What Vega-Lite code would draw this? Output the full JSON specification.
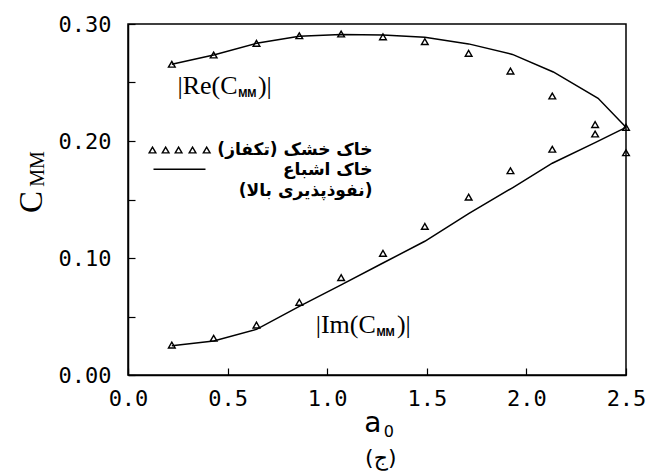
{
  "$schema": "https://vega.github.io/schema/vega-lite/v6.json",
  "width": 498,
  "height": 351,
  "autosize": {"type": "none"},
  "padding": {"left": 128, "top": 24, "right": 22, "bottom": 100},
  "background": "white",
  "config": {
    "view": {"stroke": "black", "strokeWidth": 1.5},
    "axis": {"grid": false, "domainColor": "black", "domainWidth": 1.5, "tickColor": "black", "tickWidth": 1.2, "labelColor": "black", "labelFont": "DejaVu Sans Mono", "labelFontSize": 22, "labelFontWeight": "normal"}
  },
  "datasets": {
    "lines": [
      {"a0": 0.22, "v": 0.2656, "s": "Re"}, {"a0": 0.43, "v": 0.2735, "s": "Re"}, {"a0": 0.645, "v": 0.2835, "s": "Re"}, {"a0": 0.86, "v": 0.2895, "s": "Re"}, {"a0": 1.07, "v": 0.291, "s": "Re"}, {"a0": 1.28, "v": 0.2905, "s": "Re"}, {"a0": 1.49, "v": 0.2886, "s": "Re"}, {"a0": 1.71, "v": 0.283, "s": "Re"}, {"a0": 1.93, "v": 0.274, "s": "Re"}, {"a0": 2.135, "v": 0.259, "s": "Re"}, {"a0": 2.36, "v": 0.2365, "s": "Re"}, {"a0": 2.5, "v": 0.2117, "s": "Re"},
      {"a0": 0.22, "v": 0.0249, "s": "Im"}, {"a0": 0.43, "v": 0.029, "s": "Im"}, {"a0": 0.645, "v": 0.039, "s": "Im"}, {"a0": 0.86, "v": 0.0586, "s": "Im"}, {"a0": 1.07, "v": 0.0771, "s": "Im"}, {"a0": 1.28, "v": 0.0957, "s": "Im"}, {"a0": 1.49, "v": 0.1143, "s": "Im"}, {"a0": 1.71, "v": 0.138, "s": "Im"}, {"a0": 1.93, "v": 0.16, "s": "Im"}, {"a0": 2.13, "v": 0.181, "s": "Im"}, {"a0": 2.345, "v": 0.1986, "s": "Im"}, {"a0": 2.5, "v": 0.2117, "s": "Im"}
    ],
    "tri": [
      {"a0": 0.22, "v": 0.2656, "s": "Re"}, {"a0": 0.43, "v": 0.2735, "s": "Re"}, {"a0": 0.645, "v": 0.2835, "s": "Re"}, {"a0": 0.86, "v": 0.29, "s": "Re"}, {"a0": 1.07, "v": 0.2915, "s": "Re"}, {"a0": 1.28, "v": 0.289, "s": "Re"}, {"a0": 1.49, "v": 0.2849, "s": "Re"}, {"a0": 1.71, "v": 0.2749, "s": "Re"}, {"a0": 1.92, "v": 0.2598, "s": "Re"}, {"a0": 2.13, "v": 0.2385, "s": "Re"}, {"a0": 2.345, "v": 0.214, "s": "Re"}, {"a0": 2.5, "v": 0.19, "s": "Re"},
      {"a0": 0.22, "v": 0.0256, "s": "Im"}, {"a0": 0.43, "v": 0.0314, "s": "Im"}, {"a0": 0.645, "v": 0.0427, "s": "Im"}, {"a0": 0.86, "v": 0.0621, "s": "Im"}, {"a0": 1.07, "v": 0.0832, "s": "Im"}, {"a0": 1.28, "v": 0.104, "s": "Im"}, {"a0": 1.49, "v": 0.127, "s": "Im"}, {"a0": 1.71, "v": 0.152, "s": "Im"}, {"a0": 1.92, "v": 0.1746, "s": "Im"}, {"a0": 2.13, "v": 0.193, "s": "Im"}, {"a0": 2.345, "v": 0.206, "s": "Im"}, {"a0": 2.5, "v": 0.2117, "s": "Im"}
    ],
    "legtri": [
      {"a0": 0.123, "v": 0.1923}, {"a0": 0.189, "v": 0.1923}, {"a0": 0.254, "v": 0.1923}, {"a0": 0.324, "v": 0.1923}, {"a0": 0.395, "v": 0.1923}
    ],
    "legline": [
      {"a0": 0.128, "v": 0.1758}, {"a0": 0.389, "v": 0.1758}
    ],
    "texts": [
      {"t": "|Re(C", "a0": 0.55, "v": 0.2402, "role": "mainR"},
      {"t": "|Im(C", "a0": 1.244, "v": 0.0359, "role": "mainR"},
      {"t": "MM", "a0": 0.553, "v": 0.2376, "role": "sub"},
      {"t": "MM", "a0": 1.247, "v": 0.0333, "role": "sub"},
      {"t": ")|", "a0": 0.652, "v": 0.2402, "role": "mainL"},
      {"t": ")|", "a0": 1.35, "v": 0.0359, "role": "mainL"},
      {"t": "C", "a0": -0.4296, "v": 0.1479, "role": "yC"},
      {"t": "MM", "a0": -0.4196, "v": 0.1761, "role": "yMM"},
      {"t": "a", "a0": 1.229, "v": -0.0487, "role": "xa"},
      {"t": "0", "a0": 1.284, "v": -0.053, "role": "x0"},
      {"t": "‏(ج)‏", "a0": 1.269, "v": -0.0709, "role": "cap"},
      {"t": "‏خاک خشک (تکفاز)‏", "a0": 1.227, "v": 0.1923, "role": "leg"},
      {"t": "‏خاک اشباع‏", "a0": 1.227, "v": 0.1752, "role": "leg"},
      {"t": "‏(نفوذپذیری بالا)‏", "a0": 1.227, "v": 0.1573, "role": "leg"}
    ]
  },
  "encoding": {
    "x": {"field": "a0", "type": "quantitative", "scale": {"domain": [0, 2.5], "nice": false, "zero": false},
      "axis": {"title": null, "values": [0, 0.5, 1, 1.5, 2, 2.5], "format": ".1f", "tickSize": -7, "labelPadding": 20, "labelFlush": false, "labelOverlap": false}},
    "y": {"field": "v", "type": "quantitative", "scale": {"domain": [0, 0.3], "nice": false, "zero": false},
      "axis": {"title": null, "values": [0, 0.05, 0.1, 0.15, 0.2, 0.25, 0.3], "labelExpr": "round(datum.value*100)%10==0 ? format(datum.value,'.2f') : ''", "tickSize": -7, "labelPadding": 24, "labelFlush": false, "labelOverlap": false}}
  },
  "layer": [
    {"data": {"name": "lines"}, "mark": {"type": "line", "color": "black", "strokeWidth": 1.5}, "encoding": {"detail": {"field": "s"}}},
    {"data": {"name": "tri"}, "mark": {"type": "point", "shape": "triangle-up", "filled": false, "stroke": "black", "strokeWidth": 1.4, "size": 45, "opacity": 1}},
    {"data": {"name": "legtri"}, "mark": {"type": "point", "shape": "triangle-up", "filled": false, "stroke": "black", "strokeWidth": 1.4, "size": 45, "opacity": 1}},
    {"data": {"name": "legline"}, "mark": {"type": "line", "color": "black", "strokeWidth": 1.5}, "encoding": {}},
    {"data": {"name": "texts"}, "transform": [{"filter": "datum.role=='mainR'"}], "mark": {"type": "text", "align": "right", "baseline": "alphabetic", "font": "Liberation Serif", "fontSize": 26, "color": "black"}, "encoding": {"text": {"field": "t"}}},
    {"data": {"name": "texts"}, "transform": [{"filter": "datum.role=='mainL'"}], "mark": {"type": "text", "align": "left", "baseline": "alphabetic", "font": "Liberation Serif", "fontSize": 26, "color": "black"}, "encoding": {"text": {"field": "t"}}},
    {"data": {"name": "texts"}, "transform": [{"filter": "datum.role=='sub'"}], "mark": {"type": "text", "align": "left", "baseline": "alphabetic", "font": "Liberation Sans", "fontSize": 11, "fontWeight": "bold", "color": "black"}, "encoding": {"text": {"field": "t"}}},
    {"data": {"name": "texts"}, "transform": [{"filter": "datum.role=='yC'"}], "mark": {"type": "text", "align": "center", "baseline": "alphabetic", "angle": 270, "font": "Liberation Serif", "fontSize": 33, "color": "black"}, "encoding": {"text": {"field": "t"}}},
    {"data": {"name": "texts"}, "transform": [{"filter": "datum.role=='yMM'"}], "mark": {"type": "text", "align": "center", "baseline": "alphabetic", "angle": 270, "font": "Liberation Serif", "fontSize": 20, "color": "black"}, "encoding": {"text": {"field": "t"}}},
    {"data": {"name": "texts"}, "transform": [{"filter": "datum.role=='xa'"}], "mark": {"type": "text", "align": "center", "baseline": "alphabetic", "font": "DejaVu Sans", "fontSize": 28, "color": "black"}, "encoding": {"text": {"field": "t"}}},
    {"data": {"name": "texts"}, "transform": [{"filter": "datum.role=='x0'"}], "mark": {"type": "text", "align": "left", "baseline": "alphabetic", "font": "DejaVu Sans", "fontSize": 16, "color": "black"}, "encoding": {"text": {"field": "t"}}},
    {"data": {"name": "texts"}, "transform": [{"filter": "datum.role=='cap'"}], "mark": {"type": "text", "align": "center", "baseline": "middle", "font": "DejaVu Sans", "fontSize": 22, "color": "black"}, "encoding": {"text": {"field": "t"}}},
    {"data": {"name": "texts"}, "transform": [{"filter": "datum.role=='leg'"}], "mark": {"type": "text", "align": "right", "baseline": "middle", "font": "DejaVu Sans", "fontSize": 17, "fontWeight": "bold", "color": "black"}, "encoding": {"text": {"field": "t"}}}
  ]
}
